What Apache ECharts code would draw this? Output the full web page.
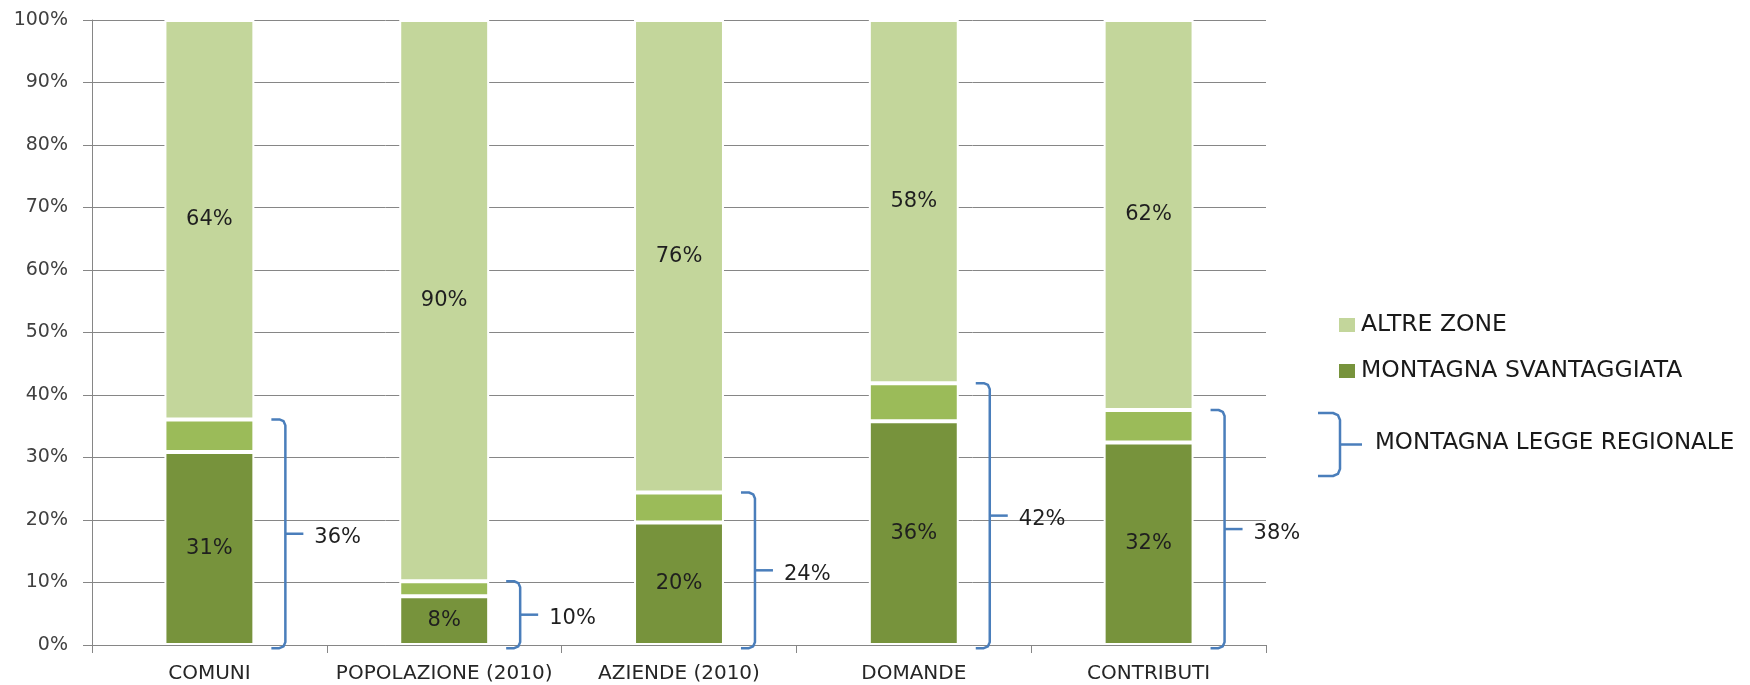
<!DOCTYPE html>
<html>
<head>
<meta charset="utf-8">
<script src="https://cdn.jsdelivr.net/npm/echarts@6/dist/echarts.min.js"></script>
<style>
html,body{margin:0;padding:0;background:#fff;}
#chart{width:1750px;height:685px;}
</style>
</head>
<body>
<div id="chart"></div>
<script>
// ---- data ----
const categories = ['COMUNI', 'POPOLAZIONE (2010)', 'AZIENDE (2010)', 'DOMANDE', 'CONTRIBUTI'];
const montagnaSvantaggiata = [30.9, 7.8, 19.6, 35.8, 32.4];
const montagnaAltra = [5.2, 2.4, 4.8, 6.1, 5.2];
const altreZone = [63.9, 89.8, 75.6, 58.1, 62.4];
const yTicks = [0, 10, 20, 30, 40, 50, 60, 70, 80, 90, 100];
const legendNames = ['ALTRE ZONE', 'MONTAGNA SVANTAGGIATA'];
const bracketLegendText = 'MONTAGNA LEGGE REGIONALE';

const legge = montagnaSvantaggiata.map((v, i) => v + montagnaAltra[i]);

const FONT = 'DejaVu Sans';
const COL_DARK = '#77933C';
const COL_MID = '#9BBB59';
const COL_LIGHT = '#C3D69B';
const COL_BRACE = '#4A7EBB';
const BAR_FRAC = 0.383;

// bracket: rounded corners, straight vertical, tick from the middle
function bracePoints(x0, xv, xt, yTop, yBot, r) {
  const yMid = (yTop + yBot) / 2;
  const q = r * 0.3;
  return [
    [[x0, yTop], [xv - r, yTop], [xv - q, yTop + q], [xv, yTop + r], [xv, yBot - r], [xv - q, yBot - q], [xv - r, yBot], [x0, yBot]],
    [[xv, yMid], [xt, yMid]]
  ];
}

const chart = echarts.init(document.getElementById('chart'), null, {renderer: 'canvas'});

const barLabel = {
  show: true,
  position: 'inside',
  fontFamily: FONT,
  fontSize: 21,
  color: '#1f1f1f',
  formatter: p => Math.round(p.value) + '%'
};

const braceStyle = {fill: 'none', stroke: COL_BRACE, lineWidth: 2.5, lineJoin: 'round'};

const option = {
  backgroundColor: '#ffffff',
  animation: false,
  textStyle: {fontFamily: FONT},
  grid: {left: 92, right: 484, top: 20, bottom: 40, containLabel: false},
  legend: {
    data: legendNames,
    orient: 'vertical',
    left: 1332,
    top: 308,
    icon: 'rect',
    itemWidth: 18,
    itemHeight: 16,
    itemGap: 22,
    textStyle: {fontFamily: FONT, fontSize: 23.5, color: '#1a1a1a', lineHeight: 24}
  },
  xAxis: {
    type: 'category',
    data: categories,
    axisLine: {show: true, lineStyle: {color: '#868686', width: 1}},
    axisTick: {show: true, length: 8, alignWithLabel: false, lineStyle: {color: '#868686'}},
    axisLabel: {fontFamily: FONT, fontSize: 20, color: '#262626', margin: 19, interval: 0}
  },
  yAxis: {
    type: 'value',
    min: 0,
    max: 100,
    interval: 10,
    axisLine: {show: true, lineStyle: {color: '#868686', width: 1}},
    axisTick: {show: true, length: 9, lineStyle: {color: '#868686'}},
    axisLabel: {
      fontFamily: FONT, fontSize: 19, color: '#404040', margin: 24,
      formatter: v => (yTicks.indexOf(v) >= 0 ? v + '%' : '')
    },
    splitLine: {show: true, lineStyle: {color: '#868686', width: 1}}
  },
  series: [
    {
      name: 'MONTAGNA SVANTAGGIATA',
      type: 'bar',
      stack: 'tot',
      barWidth: (BAR_FRAC * 100) + '%',
      data: montagnaSvantaggiata,
      itemStyle: {color: COL_DARK, borderColor: '#ffffff', borderWidth: 2},
      label: barLabel
    },
    {
      name: 'MONTAGNA ALTRA',
      type: 'bar',
      stack: 'tot',
      data: montagnaAltra,
      itemStyle: {color: COL_MID, borderColor: '#ffffff', borderWidth: 2},
      label: {show: false}
    },
    {
      name: 'ALTRE ZONE',
      type: 'bar',
      stack: 'tot',
      data: altreZone,
      itemStyle: {color: COL_LIGHT, borderColor: '#ffffff', borderWidth: 2},
      label: barLabel
    },
    {
      name: 'LEGGE REGIONALE',
      type: 'custom',
      clip: false,
      z: 10,
      data: legge.map((v, i) => [i, v]),
      renderItem: function (params, api) {
        const idx = api.value(0);
        const top = api.value(1);
        const pTop = api.coord([idx, top]);
        const pBot = api.coord([idx, -0.5]);
        const band = api.size([1, 0])[0];
        const barRight = pTop[0] + band * BAR_FRAC / 2;
        const x0 = barRight + 17;
        const xv = barRight + 31;
        const xt = barRight + 49;
        const yMid = (pTop[1] + pBot[1]) / 2;
        const parts = bracePoints(x0, xv, xt, pTop[1], pBot[1], 6);
        const children = parts.map(pts => ({
          type: 'polyline',
          shape: {points: pts},
          style: braceStyle
        }));
        children.push({
          type: 'text',
          x: xt + 11,
          y: yMid + 4,
          style: {
            text: Math.round(top) + '%',
            fontFamily: FONT,
            fontSize: 21,
            fill: '#1f1f1f',
            verticalAlign: 'middle',
            align: 'left'
          }
        });
        return {type: 'group', children: children};
      }
    }
  ],
  graphic: bracePoints(1318, 1340, 1362, 413, 476, 7).map(pts => ({
    type: 'polyline',
    shape: {points: pts},
    style: braceStyle
  })).concat([
    {
      type: 'text',
      x: 1375,
      y: 443,
      style: {
        text: bracketLegendText,
        fontFamily: FONT,
        fontSize: 23,
        fill: '#1a1a1a',
        verticalAlign: 'middle'
      }
    }
  ])
};

chart.setOption(option);
</script>
</body>
</html>
